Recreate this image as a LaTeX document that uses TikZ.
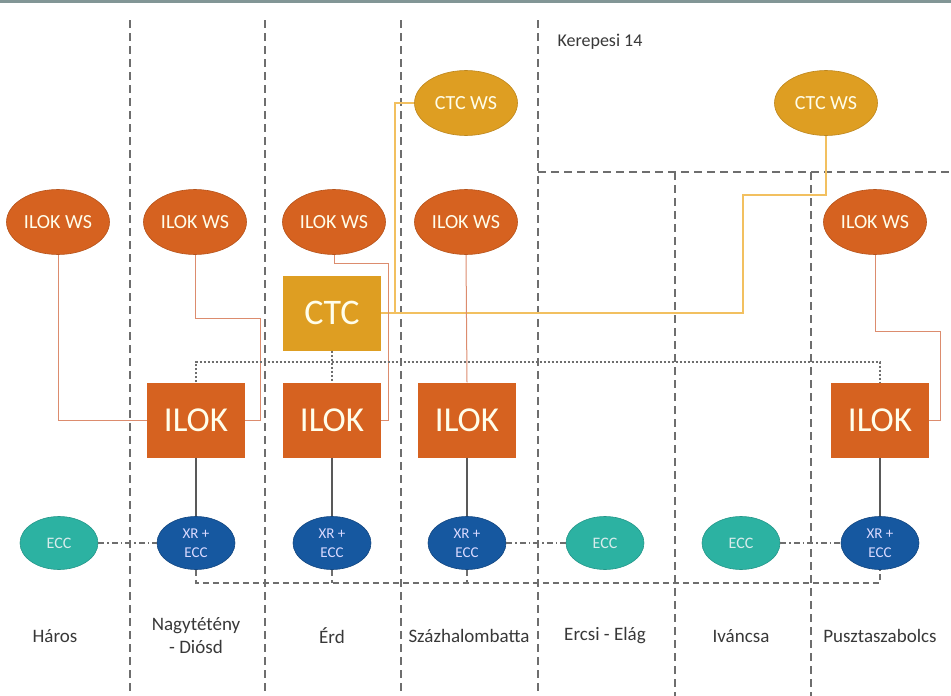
\documentclass[tikz,border=0pt]{standalone}
\usepackage{fontspec}
\setmainfont{Carlito}
\usetikzlibrary{shapes.geometric}

\definecolor{ilokorange}{RGB}{214,98,32}
\definecolor{ctcgold}{RGB}{222,158,34}
\definecolor{xrblue}{RGB}{22,88,160}
\definecolor{eccteal}{RGB}{44,178,162}
\definecolor{wsline}{RGB}{220,140,110}
\definecolor{ctcline}{RGB}{242,192,96}
\definecolor{sepgray}{RGB}{110,110,110}
\definecolor{toprule}{RGB}{130,150,150}

\tikzset{
  ilokws/.style={ellipse, fill=ilokorange, draw=ilokorange!85!black, line width=0.6pt,
    minimum width=103pt, minimum height=65pt, inner sep=0pt,
    text=white!92!yellow, font=\fontsize{20}{20}\selectfont},
  ctcws/.style={ilokws, fill=ctcgold, draw=ctcgold!85!black},
  ilokbox/.style={rectangle, fill=ilokorange, minimum width=98pt, minimum height=75pt,
    text=white!92!yellow, font=\fontsize{35}{35}\selectfont},
  ctcbox/.style={ilokbox, fill=ctcgold, font=\fontsize{36}{36}\selectfont},
  xrecc/.style={ellipse, fill=xrblue, draw=xrblue!80!black, line width=0.6pt,
    minimum width=78pt, minimum height=53pt, inner sep=0pt, align=center,
    text=white!85!blue, font=\fontsize{15}{19}\selectfont},
  ecc/.style={xrecc, fill=eccteal, draw=eccteal!85!black, text=white!85!teal,
    font=\fontsize{16}{19}\selectfont},
  sep/.style={draw=sepgray, line width=1.1pt, dash pattern=on 8pt off 5pt},
  wslink/.style={draw=wsline, line width=1pt},
  ctclink/.style={draw=ctcline, line width=1.2pt},
  bus/.style={draw=sepgray, line width=1.5pt, dash pattern=on 2pt off 2pt},
  eccbus/.style={draw=sepgray, line width=1.3pt, dash pattern=on 6pt off 4pt},
  ecclink/.style={draw=sepgray, line width=1.2pt, dash pattern=on 6pt off 3pt on 1.5pt off 3pt},
  uplink/.style={draw=black!65, line width=1.2pt},
  site/.style={text=black!78, align=center, font=\fontsize{19}{23}\selectfont}
}

\begin{document}
\begin{tikzpicture}[x=1pt, y=-1pt]
  \useasboundingbox (0,0) rectangle (951,696);
  \def\rowws{222}
  \def\rowilok{420}
  \def\rowxr{543}

  % Frame and zones
  \draw[toprule, line width=3pt] (0,1.5) -- (951,1.5);
  \foreach \x in {130,265,401,538}
    \draw[sep] (\x,20) -- (\x,696);
  \foreach \x in {675,811}
    \draw[sep] (\x,172) -- (\x,696);
  \draw[sep] (538,172) -- (951,172);
  \node[site, anchor=west, font=\fontsize{18}{18}\selectfont] (kerepesi) at (554,42) {Kerepesi 14};

  % Workstations
  \node[ctcws] (ctcwsa) at (466,103) {CTC WS};
  \node[ctcws] (ctcwsb) at (826,103) {CTC WS};
  \node[ilokws] (wsharos) at (58,\rowws) {ILOK WS};
  \node[ilokws] (wsnagy) at (195,\rowws) {ILOK WS};
  \node[ilokws] (wserd) at (334,\rowws) {ILOK WS};
  \node[ilokws] (wsszaz) at (466,\rowws) {ILOK WS};
  \node[ilokws] (wspuszta) at (875,\rowws) {ILOK WS};

  % Interlockings
  \node[ctcbox] (ctc) at (332,313) {CTC};
  \node[ilokbox] (iloknagy) at (196,\rowilok) {ILOK};
  \node[ilokbox] (ilokerd) at (332,\rowilok) {ILOK};
  \node[ilokbox] (ilokszaz) at (467,\rowilok) {ILOK};
  \node[ilokbox] (ilokpuszta) at (880,\rowilok) {ILOK};

  % Object controllers
  \node[ecc] (eccharos) at (59,\rowxr) {ECC};
  \node[xrecc] (xrnagy) at (196,\rowxr) {XR +\\ECC};
  \node[xrecc] (xrerd) at (332,\rowxr) {XR +\\ECC};
  \node[xrecc] (xrszaz) at (467,\rowxr) {XR +\\ECC};
  \node[ecc] (eccercsi) at (605,\rowxr) {ECC};
  \node[ecc] (eccivan) at (741,\rowxr) {ECC};
  \node[xrecc] (xrpuszta) at (880,\rowxr) {XR +\\ECC};

  % Station names
  \node[site] (lharos) at (55,636) {Háros};
  \node[site] (lnagy) at (196,636) {Nagytétény\\- Diósd};
  \node[site] (lerd) at (332,636) {Érd};
  \node[site] (lszaz) at (469,636) {Százhalombatta};
  \node[site] (lercsi) at (605,636) {Ercsi - Elág};
  \node[site] (livan) at (741,636) {Iváncsa};
  \node[site] (lpuszta) at (880,636) {Pusztaszabolcs};

  % CTC links
  \draw[ctclink] (ctc.east) -| (743,195) -| (ctcwsb.south);
  \draw[ctclink] (ctcwsa.west) -| (395,313);

  % ILOK WS links
  \draw[wslink] (wsharos.south) |- (iloknagy.west);
  \draw[wslink] (wsnagy.south) |- (260,318) |- (iloknagy.east);
  \draw[wslink] (wserd.south) |- (388,263) |- (ilokerd.east);
  \draw[wslink] (wsszaz.south) -- (ilokszaz.north);
  \draw[wslink] (wspuszta.south) |- (940,331) |- (ilokpuszta.east);

  % ILOK bus
  \draw[bus] (iloknagy.north) |- (880,362) -- (ilokpuszta.north);
  \draw[bus] (ctc.south) -- (ilokerd.north);

  % ILOK to XR
  \foreach \n in {nagy,erd,szaz,puszta}
    \draw[uplink] (ilok\n.south) -- (xr\n.north);

  % ECC bus
  \draw[eccbus] (xrnagy.south) |- (880,583) -- (xrpuszta.south);
  \draw[eccbus] (xrerd.south) -- (332,583);
  \draw[eccbus] (xrszaz.south) -- (467,583);
  \draw[ecclink] (eccharos.east) -- (xrnagy.west);
  \draw[ecclink] (xrszaz.east) -- (eccercsi.west);
  \draw[ecclink] (eccivan.east) -- (xrpuszta.west);
\end{tikzpicture}
\end{document}
